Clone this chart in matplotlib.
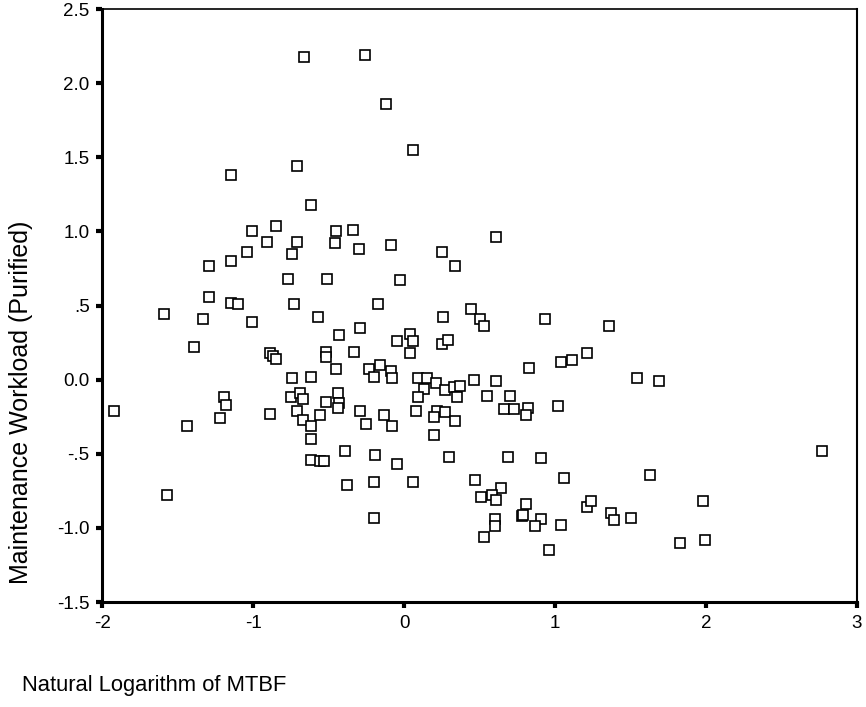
import matplotlib
matplotlib.use("Agg")
import matplotlib.pyplot as plt

# natural log of MTBF (x) and purified maintenance workload (y)
ln_mtbf = [
    -0.66, -0.26, -0.12, 0.06, -1.15, -0.71, -0.62, -1.01, -0.85, -0.91,
    -0.45, -0.34, -0.71, -0.46, -0.30, -0.09, -1.04, -0.74, -1.29, -1.15,
    -0.77, -0.51, -0.03, 0.25, 0.34, 0.61, 0.44, 0.50, 0.53, 0.93,
    1.36, 0.26, -1.29, -1.15, -1.10, -1.59, -1.33, -1.01, -0.73, -0.57,
    -0.17, -0.29, -0.43, -1.39, -0.89, -0.87, -0.85, -0.52, -0.52, -0.33,
    -0.05, 0.04, 0.06, 0.04, 0.25, 0.29, -0.45, -0.23, -0.16, -0.20,
    -0.09, -0.08, -0.74, -0.62, -1.92, -1.44, -1.19, -1.18, -1.22, -0.89,
    -0.75, -0.69, -0.67, -0.71, -0.67, -0.62, -0.62, -0.52, -0.56, -0.44,
    -0.43, -0.44, -0.29, -0.25, -0.13, -0.08, -0.39, -0.19, -0.05, -0.62,
    -0.56, -0.53, 0.09, 0.15, 0.13, 0.09, 0.08, 0.21, 0.27, 0.33,
    0.35, 0.22, 0.27, 0.20, 0.34, 0.20, 0.30, 0.37, 0.83, 1.04,
    1.11, 1.21, 1.54, 1.69, 0.46, 0.61, 0.55, 0.70, 0.66, 0.73,
    0.82, 0.81, 1.02, 0.69, 0.91, 2.77, 1.63, 1.06, 0.47, -1.57,
    -0.38, -0.20, 0.06, -0.20, 0.64, 0.51, 0.58, 0.61, 0.81, 0.78,
    0.79, 0.91, 0.87, 1.04, 0.60, 0.60, 0.53, 0.96, 1.21, 1.24,
    1.37, 1.39, 1.50, 1.98, 1.83, 1.99,
]
workload = [
    2.18, 2.19, 1.86, 1.55, 1.38, 1.44, 1.18, 1.00, 1.04, 0.93,
    1.00, 1.01, 0.93, 0.92, 0.88, 0.91, 0.86, 0.85, 0.77, 0.80,
    0.68, 0.68, 0.67, 0.86, 0.77, 0.96, 0.48, 0.41, 0.36, 0.41,
    0.36, 0.42, 0.56, 0.52, 0.51, 0.44, 0.41, 0.39, 0.51, 0.42,
    0.51, 0.35, 0.30, 0.22, 0.18, 0.16, 0.14, 0.19, 0.15, 0.19,
    0.26, 0.31, 0.26, 0.18, 0.24, 0.27, 0.07, 0.07, 0.10, 0.02,
    0.06, 0.01, 0.01, 0.02, -0.21, -0.31, -0.12, -0.17, -0.26, -0.23,
    -0.12, -0.09, -0.13, -0.21, -0.27, -0.31, -0.40, -0.15, -0.24, -0.09,
    -0.16, -0.19, -0.21, -0.30, -0.24, -0.31, -0.48, -0.51, -0.57, -0.54,
    -0.55, -0.55, 0.01, 0.01, -0.06, -0.12, -0.21, -0.02, -0.07, -0.05,
    -0.12, -0.21, -0.22, -0.25, -0.28, -0.37, -0.52, -0.04, 0.08, 0.12,
    0.13, 0.18, 0.01, -0.01, 0.00, -0.01, -0.11, -0.11, -0.20, -0.20,
    -0.19, -0.24, -0.18, -0.52, -0.53, -0.48, -0.64, -0.66, -0.68, -0.78,
    -0.71, -0.69, -0.69, -0.93, -0.73, -0.79, -0.78, -0.81, -0.84, -0.92,
    -0.91, -0.94, -0.99, -0.98, -0.94, -0.99, -1.06, -1.15, -0.86, -0.82,
    -0.90, -0.95, -0.93, -0.82, -1.10, -1.08,
]

x_ticks = [-2, -1, 0, 1, 2, 3]
y_ticks = [-1.5, -1.0, -0.5, 0.0, 0.5, 1.0, 1.5, 2.0, 2.5]
y_tick_labels = ['-1.5', '-1.0', '-.5', '0.0', '.5', '1.0', '1.5', '2.0', '2.5']

plt.rcParams['font.family'] = ['Liberation Sans', 'DejaVu Sans']

fig = plt.figure(figsize=(8.66, 7.07), dpi=100)
ax = fig.add_axes([0.118, 0.1485, 0.8716, 0.8385])

ax.plot(ln_mtbf, workload, linestyle='none', marker='s', markersize=6.5,
        markerfacecolor='white', markeredgecolor='black', markeredgewidth=1.2)

ax.set_xlim(-2, 3)
ax.set_ylim(-1.5, 2.5)
ax.set_xticks(x_ticks)
ax.set_xticklabels([str(t) for t in x_ticks])
ax.set_yticks(y_ticks)
ax.set_yticklabels(y_tick_labels)
ax.tick_params(axis='both', direction='out', length=4, width=3, labelsize=13.5,
               colors='black', pad=5)

ax.spines['left'].set_linewidth(2.2)
ax.spines['bottom'].set_linewidth(2.2)
ax.spines['right'].set_linewidth(1.5)
ax.spines['top'].set_linewidth(1.2)

fig.text(21 / 866, 1 - 402 / 707, 'Maintenance Workload (Purified)', rotation=90,
         ha='center', va='center', fontsize=18)
fig.text(22 / 866, 1 - 685 / 707, 'Natural Logarithm of MTBF', ha='left',
         va='center', fontsize=15.8)

fig.savefig('out.png', dpi=100)
